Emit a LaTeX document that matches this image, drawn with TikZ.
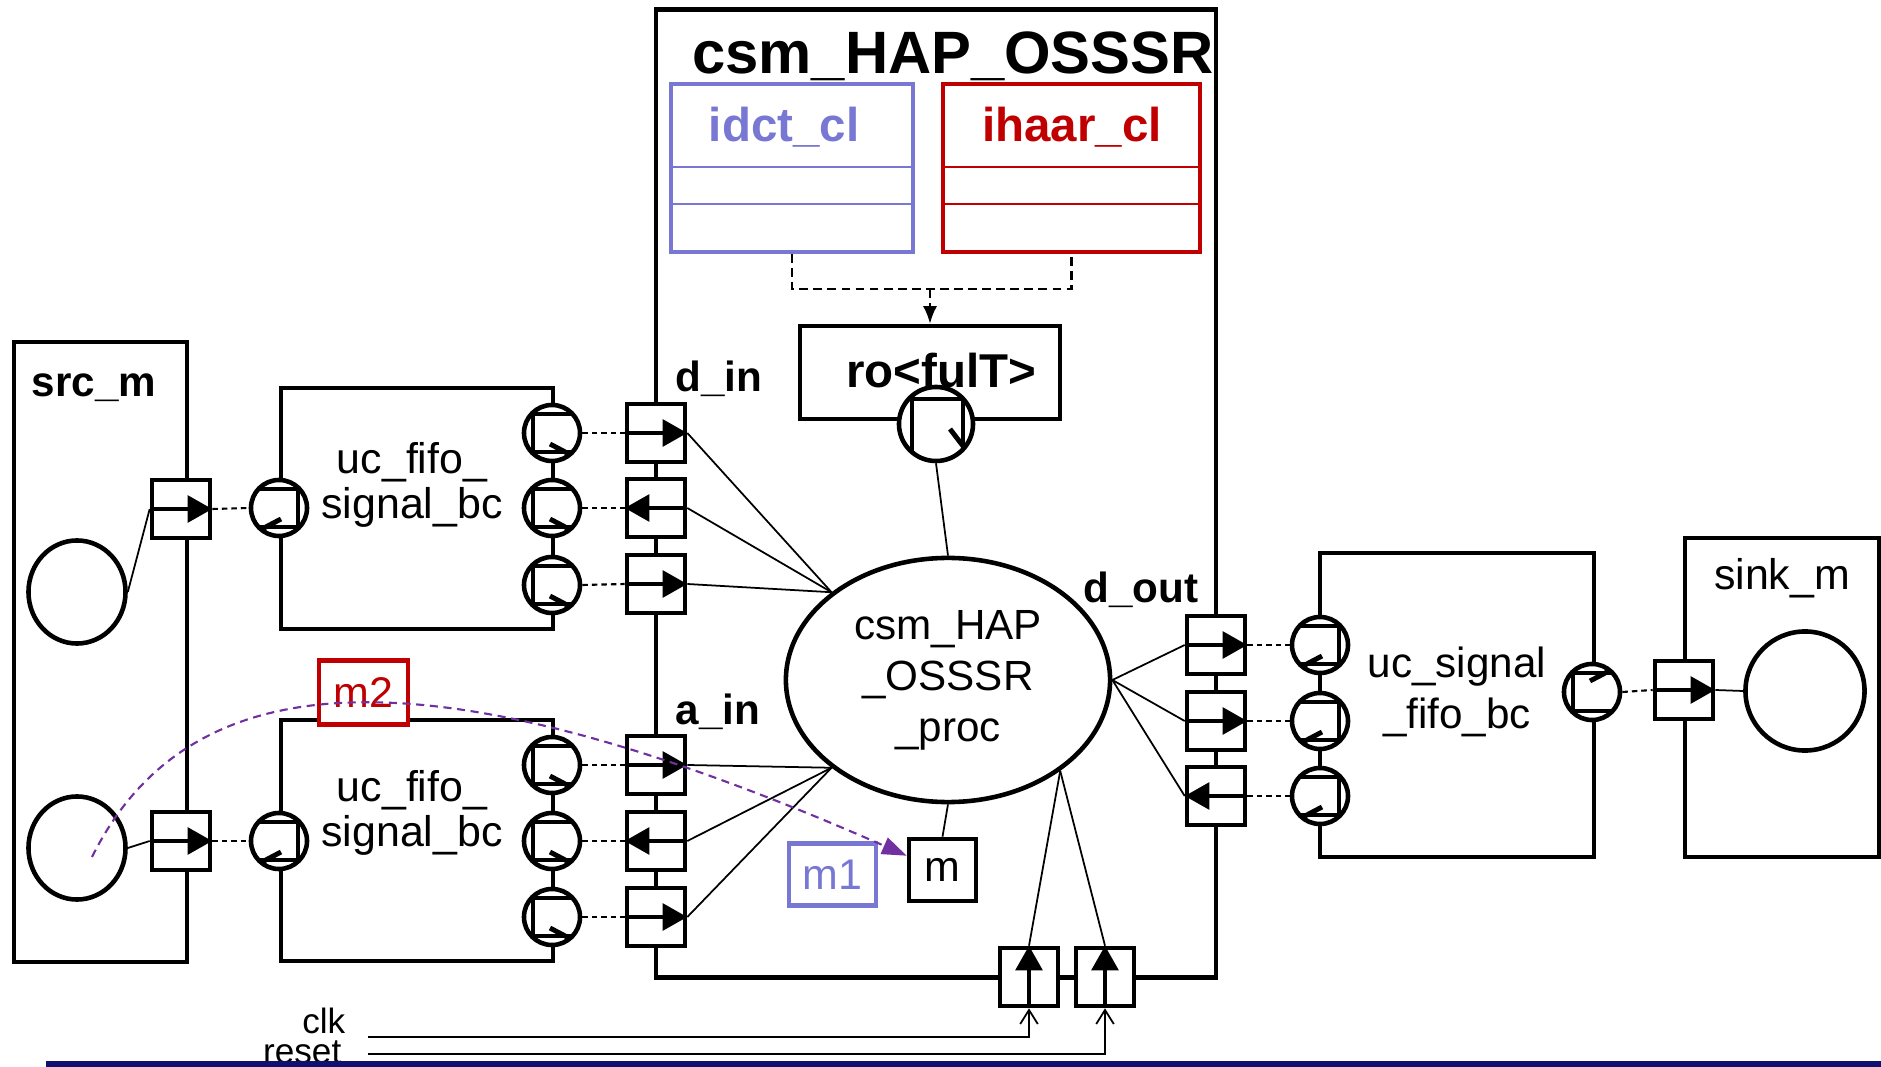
\documentclass[tikz,border=0pt]{standalone}
\usepackage{fontspec}
\setmainfont{Liberation Sans}
\usetikzlibrary{arrows.meta,shapes.geometric,calc}

\definecolor{clblue}{RGB}{120,120,212}
\definecolor{clred}{RGB}{192,0,0}
\definecolor{msgpurple}{RGB}{112,48,160}
\definecolor{rulenavy}{RGB}{16,16,110}

\newcommand{\lblfont}{\fontsize{12.2pt}{13pt}\selectfont}
\newcommand{\lblbold}{\fontsize{12pt}{14pt}\selectfont\bfseries}
\newcommand{\clsfont}{\fontsize{13.5pt}{16pt}\selectfont\bfseries}
\newcommand{\titlefont}{\fontsize{17pt}{20pt}\selectfont\bfseries}
\newcommand{\procfont}{\fontsize{12pt}{14.5pt}\selectfont}
\newcommand{\sigfont}{\fontsize{10pt}{12pt}\selectfont}

\tikzset{
  blk/.style={draw, line width=1.3pt, inner sep=0pt},
  clbox/.style={draw, line width=1.2pt, inner sep=0pt},
  cldiv/.style={line width=0.6pt},
  port/.style={draw, fill=white, line width=1.3pt, minimum size=0.58cm, inner sep=0pt},
  cport/.style={draw, circle, fill=white, line width=1.3pt, minimum size=0.56cm, inner sep=0pt},
  parrow/.style={line width=1.3pt, -{Triangle[length=7pt,width=7.5pt]}},
  wire/.style={line width=0.5pt},
  bind/.style={line width=0.6pt, dash pattern=on 1.6pt off 1.1pt},
  cldash/.style={line width=0.6pt, dash pattern=on 2.5pt off 1.5pt},
  sigline/.style={line width=0.5pt, -{Straight Barb[length=4pt,width=5pt]}},
  mflow/.style={msgpurple, line width=0.6pt, dash pattern=on 2.3pt off 1.6pt, -{Triangle[length=7pt,width=5pt]}},
  markline/.style={line width=1.4pt},
  pics/pmark/.style={code={
    \draw[markline] (21,-19) -- (-19,-19) -- (-19,19) -- (21,19);
    \draw[markline] (-2,11) -- (17,21);
  }},
  pics/pmarkdn/.style={code={
    \draw[markline] (-24,28) -- (-24,-25) -- (27,-25) -- (27,25);
    \draw[markline] (14,5) -- (27,22);
  }},
}

\begin{document}
\begin{tikzpicture}[x=0.01cm, y=-0.01cm]
  \useasboundingbox (0,0) rectangle (1881,1067);

  % modules
  \node[blk, minimum width=5.6cm, minimum height=9.67cm] (csm) at (936,493.5) {};
  \node[blk, minimum width=1.73cm, minimum height=6.2cm] (src) at (100.5,652) {};
  \node[blk, minimum width=1.94cm, minimum height=3.19cm] (sink) at (1782,697.5) {};
  \node[anchor=base, font=\titlefont] (csmt) at (953,74) {csm\_HAP\_OSSSR};
  \node[anchor=base, font=\lblbold] (srct) at (94,397) {src\_m};
  \node[anchor=base, font=\lblfont] (sinkt) at (1782,590) {sink\_m};

  % processes of src and sink
  \node[draw, ellipse, line width=1.3pt, minimum width=0.97cm, minimum height=1.03cm] (srcA) at (77,592) {};
  \node[draw, ellipse, line width=1.3pt, minimum width=0.97cm, minimum height=1.03cm] (srcB) at (77,848) {};
  \node[draw, circle, line width=1.3pt, minimum size=1.19cm] (skc) at (1805,691) {};

  % channels
  \node[blk, minimum width=2.72cm, minimum height=2.41cm] (ufa) at (417,508.5) {};
  \node[blk, minimum width=2.72cm, minimum height=2.41cm] (ufb) at (417,840.5) {};
  \node[blk, minimum width=2.74cm, minimum height=3.04cm] (usig) at (1457,705) {};
  \node[align=center, font=\lblfont] (ufat) at (412,485) {uc\_fifo\_\\signal\_bc};
  \node[align=center, font=\lblfont] (ufbt) at (412,813) {uc\_fifo\_\\signal\_bc};
  \node[align=center, font=\fontsize{12pt}{14.3pt}\selectfont] (usigt) at (1457,692) {uc\_signal\\\_fifo\_bc};

  % classes and the ro object
  \node[clbox, draw=clblue, minimum width=2.42cm, minimum height=1.68cm] (idct) at (792,168) {};
  \node[clbox, draw=clred, minimum width=2.57cm, minimum height=1.68cm] (ihaar) at (1071.5,168) {};
  \draw[cldiv, clblue] ($(idct.north west)+(0,85)$) -- ($(idct.north east)+(0,85)$);
  \draw[cldiv, clblue] ($(idct.north west)+(0,122)$) -- ($(idct.north east)+(0,122)$);
  \draw[cldiv, clred] ($(ihaar.north west)+(0,85)$) -- ($(ihaar.north east)+(0,85)$);
  \draw[cldiv, clred] ($(ihaar.north west)+(0,122)$) -- ($(ihaar.north east)+(0,122)$);
  \node[anchor=base, font=\clsfont, text=clblue] (idctt) at (784,142) {idct\_cl};
  \node[anchor=base, font=\clsfont, text=clred] (ihaart) at (1072,142) {ihaar\_cl};
  \node[blk, minimum width=2.6cm, minimum height=0.93cm] (ro) at (930,372.5) {};
  \node[anchor=base, font=\clsfont] (rot) at (941,388) {ro<fulT>};
  \coordinate (clsj) at (930,289);
  \draw[cldash] (idct.south) |- (clsj) -| (ihaar.south);
  \draw[cldash, -{Latex[length=5pt,width=4pt]}] (clsj) -- (ro.north);

  % process and message boxes
  \node[draw, ellipse, line width=1.3pt, minimum width=3.24cm, minimum height=2.44cm,
        align=center, font=\procfont] (proc) at (948,680) {csm\_HAP\\\_OSSSR\\\_proc};
  \node[draw, line width=1.3pt, minimum width=0.67cm, minimum height=0.62cm, font=\lblfont] (m) at (942.5,870) {m};
  \node[draw=clblue, line width=1.2pt, minimum width=0.87cm, minimum height=0.62cm,
        text=clblue, font=\lblfont] (m1) at (832.5,874.5) {m1};

  % port labels
  \node[anchor=base, font=\lblbold] (dint) at (719,392) {d\_in};
  \node[anchor=base, font=\lblbold] (aint) at (718,725) {a\_in};
  \node[anchor=base, font=\lblbold] (doutt) at (1141,603) {d\_out};

  % ports
  \node[port] (sp1) at (181,509) {};
  \node[port] (sp2) at (181,841) {};
  \node[port] (din1) at (656,433) {};
  \node[port] (din2) at (656,508) {};
  \node[port] (din3) at (656,584) {};
  \node[port] (ain1) at (656,765) {};
  \node[port] (ain2) at (656,841) {};
  \node[port] (ain3) at (656,917) {};
  \node[port] (dout1) at (1216,645) {};
  \node[port] (dout2) at (1216,721) {};
  \node[port] (dout3) at (1216,796) {};
  \node[port] (skp) at (1684,690) {};
  \node[port] (clkp) at (1029,977) {};
  \node[port] (rstp) at (1105,977) {};
  \draw[parrow] (sp1.west) -- (sp1.east);
  \draw[parrow] (sp2.west) -- (sp2.east);
  \draw[parrow] (din1.west) -- (din1.east);
  \draw[parrow] (din2.east) -- (din2.west);
  \draw[parrow] (din3.west) -- (din3.east);
  \draw[parrow] (ain1.west) -- (ain1.east);
  \draw[parrow] (ain2.east) -- (ain2.west);
  \draw[parrow] (ain3.west) -- (ain3.east);
  \draw[parrow] (dout1.west) -- (dout1.east);
  \draw[parrow] (dout2.west) -- (dout2.east);
  \draw[parrow] (dout3.east) -- (dout3.west);
  \draw[parrow] (skp.west) -- (skp.east);
  \draw[parrow] (clkp.south) -- (clkp.north);
  \draw[parrow] (rstp.south) -- (rstp.north);

  % channel interfaces
  \node[cport] (ufal) at (279,508) {};
  \node[cport] (ufar1) at (552,433) {};
  \node[cport] (ufar2) at (552,508) {};
  \node[cport] (ufar3) at (552,585) {};
  \node[cport] (ufbl) at (279,841) {};
  \node[cport] (ufbr1) at (552,765) {};
  \node[cport] (ufbr2) at (552,841) {};
  \node[cport] (ufbr3) at (552,917) {};
  \node[cport] (usl1) at (1320,645) {};
  \node[cport] (usl2) at (1320,721) {};
  \node[cport] (usl3) at (1320,796) {};
  \node[cport] (usr) at (1592,692) {};
  \node[cport, minimum size=0.74cm] (rop) at (936,424) {};
  \pic[xscale=-1] at (ufal) {pmark};
  \pic at (ufar1) {pmark};
  \pic at (ufar2) {pmark};
  \pic at (ufar3) {pmark};
  \pic[xscale=-1] at (ufbl) {pmark};
  \pic at (ufbr1) {pmark};
  \pic at (ufbr2) {pmark};
  \pic at (ufbr3) {pmark};
  \pic[xscale=-1] at (usl1) {pmark};
  \pic[xscale=-1] at (usl2) {pmark};
  \pic[xscale=-1] at (usl3) {pmark};
  \pic[yscale=-1] at (usr) {pmark};
  \pic at (rop) {pmarkdn};

  % bindings
  \draw[bind] (sp1.east) -- (ufal.west);
  \draw[bind] (sp2.east) -- (ufbl.west);
  \draw[bind] (ufar1.east) -- (din1.west);
  \draw[bind] (ufar2.east) -- (din2.west);
  \draw[bind] (ufar3.east) -- (din3.west);
  \draw[bind] (ufbr1.east) -- (ain1.west);
  \draw[bind] (ufbr2.east) -- (ain2.west);
  \draw[bind] (ufbr3.east) -- (ain3.west);
  \draw[bind] (dout1.east) -- (usl1.west);
  \draw[bind] (dout2.east) -- (usl2.west);
  \draw[bind] (dout3.east) -- (usl3.west);
  \draw[bind] (usr.east) -- (skp.west);

  % sensitivity wires
  \draw[wire] (srcA.east) -- (sp1.west);
  \draw[wire] (srcB.east) -- (sp2.west);
  \draw[wire] (skp.east) -- (skc.west);
  \draw[wire] (din1.east) -- (proc.143);
  \draw[wire] (din2.east) -- (proc.143);
  \draw[wire] (din3.east) -- (proc.143);
  \draw[wire] (ain1.east) -- (proc.217);
  \draw[wire] (ain2.east) -- (proc.217);
  \draw[wire] (ain3.east) -- (proc.217);
  \draw[wire] (proc.east) -- (dout1.west);
  \draw[wire] (proc.east) -- (dout2.west);
  \draw[wire] (proc.east) -- (dout3.west);
  \draw[wire] (clkp.north) -- (proc.321);
  \draw[wire] (rstp.north) -- (proc.321);
  \draw[wire] (rop.south) -- (proc.north);
  \draw[wire] (proc.south) -- (m.north);

  % clock and reset
  \coordinate (clkin) at (368,1037);
  \coordinate (rstin) at (368,1054);
  \node[anchor=base east, inner sep=0pt, font=\sigfont] (clkt) at (346,1033) {clk};
  \node[anchor=base east, inner sep=0pt, font=\sigfont] (rstt) at (342,1063) {reset};
  \draw[sigline] (clkin) -| (clkp.south);
  \draw[sigline] (rstin) -| (rstp.south);

  % message m2
  \node[draw=clred, fill=white, line width=1.2pt, minimum width=0.89cm, minimum height=0.64cm,
        text=clred, font=\lblfont] (m2) at (363.5,692.5) {m2};
  \coordinate (m2src) at (92,857);
  \draw[mflow] (m2src) .. controls (195,650) and (450,655) .. ($(m.north west)+(0,19)$);

  \draw[rulenavy, line width=1.5pt] (46,1064) -- (1881,1064);
\end{tikzpicture}
\end{document}
